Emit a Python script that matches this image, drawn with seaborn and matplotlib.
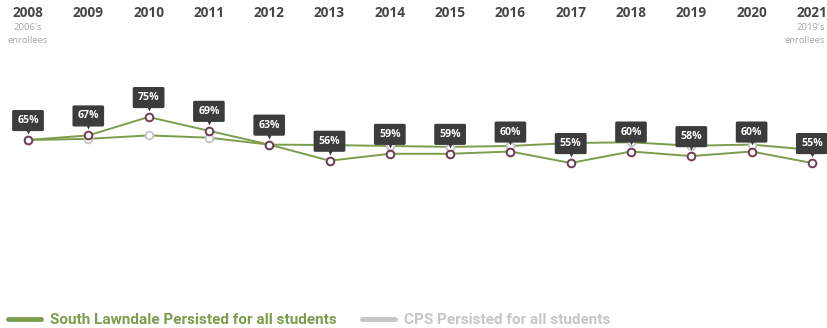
"""Persistence rates: South Lawndale vs CPS, 2008-2021."""

import matplotlib
matplotlib.use("Agg")

import matplotlib.pyplot as plt
import matplotlib.transforms as mtransforms
from matplotlib.lines import Line2D
import pandas as pd
import seaborn as sns


YEARS = [2008, 2009, 2010, 2011, 2012, 2013, 2014, 2015, 2016, 2017, 2018, 2019, 2020, 2021]
SOUTH_LAWNDALE = [65, 67, 75, 69, 63, 56, 59, 59, 60, 55, 60, 58, 60, 55]
CPS = [65, 65.5, 67, 66, 63, 62.8, 62.4, 62, 62.4, 63.7, 64, 62.5, 63, 60.7]
SUBTITLES = {2008: "2006's\nenrollees", 2021: "2019's\nenrollees"}
LEGEND_LABELS = ["South Lawndale Persisted for all students", "CPS Persisted for all students"]

GREEN = "#7d9c4c"
LIGHT_GRAY = "#c6c6c6"
DARK = "#3c3c3c"
MAROON = "#6e3b55"


def main():
    sns.set_theme(style="white")
    plt.rcParams["font.family"] = ["Open Sans", "DejaVu Sans"]

    df = pd.DataFrame({"year": YEARS, "sl": SOUTH_LAWNDALE, "cps": CPS})

    fig = plt.figure(figsize=(8.27, 3.28), dpi=100)
    ax = fig.add_axes([0, 0, 1, 1])

    # CPS series: line in green (highlighted), light gray markers
    sns.lineplot(data=df, x="year", y="cps", ax=ax, color=GREEN, lw=1.4,
                 marker="o", markersize=5.5, markerfacecolor="white",
                 markeredgecolor=LIGHT_GRAY, markeredgewidth=1.4, zorder=2)
    sns.lineplot(data=df, x="year", y="sl", ax=ax, color=GREEN, lw=1.4,
                 marker="o", markersize=5.5, markerfacecolor="white",
                 markeredgecolor=MAROON, markeredgewidth=1.4, zorder=3)

    ax.set_xlim(2008 - 28 / 60.3, 2008 + (827 - 28) / 60.3)
    ax.set_ylim(75 - 211 / 2.3, 75 + 117 / 2.3)
    ax.axis("off")

    # value tooltips above South Lawndale points
    tri_trans = mtransforms.offset_copy(ax.transData, fig=fig, x=0, y=6.5, units="points")
    ax.scatter(df["year"], df["sl"], marker="v", s=18, color=DARK, transform=tri_trans,
               zorder=4, linewidths=0)
    for year, val in zip(YEARS, SOUTH_LAWNDALE):
        ax.annotate(f"{val}%", (year, val), xytext=(0, 14), textcoords="offset points",
                    ha="center", va="center", fontsize=7.6, fontweight="bold", color="white",
                    bbox=dict(boxstyle="round,pad=0.48,rounding_size=0.15", fc=DARK, ec="none"),
                    zorder=5)

    # year header
    header = mtransforms.blended_transform_factory(ax.transData, fig.transFigure)
    for year in YEARS:
        ax.text(year, 1 - 13 / 328, str(year), transform=header, ha="center", va="center",
                fontsize=9.8, fontweight="bold", color="#474747")
    ax.text(YEARS[0], 1 - 34 / 328, SUBTITLES[YEARS[0]], transform=header, ha="center",
            va="center", fontsize=6.8, color="#a8a8a8", linespacing=1.45)
    ax.text(0.997, 1 - 34 / 328, SUBTITLES[YEARS[-1]], transform=fig.transFigure, ha="right",
            va="center", fontsize=6.8, color="#a8a8a8", linespacing=1.45, multialignment="right")

    handles = [Line2D([], [], color=GREEN, lw=3.5, solid_capstyle="round"),
               Line2D([], [], color=LIGHT_GRAY, lw=3.5, solid_capstyle="round")]
    leg = fig.legend(handles, LEGEND_LABELS, loc="center left",
                     bbox_to_anchor=(0.0, 1 - 320 / 328), ncol=2, frameon=False,
                     borderaxespad=0, borderpad=0.5,
                     handlelength=2.2, handletextpad=0.6, columnspacing=1.6,
                     prop={"family": ["Roboto", "DejaVu Sans"], "weight": "bold", "size": 11})
    for text, color in zip(leg.get_texts(), [GREEN, LIGHT_GRAY]):
        text.set_color(color)

    fig.savefig("out.png", dpi=100)
    plt.close(fig)


if __name__ == "__main__":
    main()
